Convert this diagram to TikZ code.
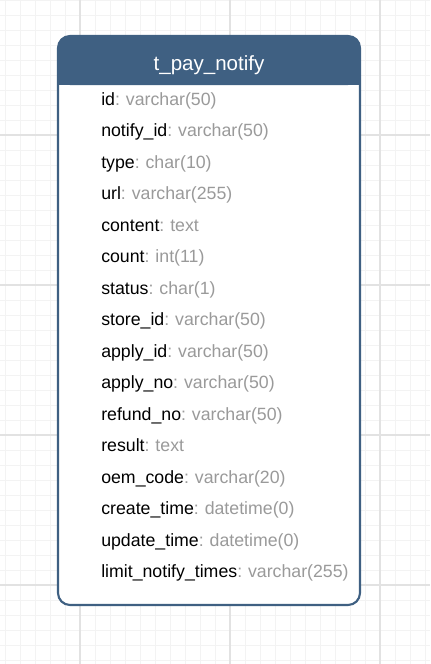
\documentclass[tikz,border=0pt]{standalone}
\usepackage{fontspec}
\usepackage{xcolor}
\usepackage{tikz}
\setmainfont{Liberation Sans}
\definecolor{headblue}{HTML}{3F6082}
\definecolor{typegray}{HTML}{9A9A9A}
\definecolor{gridminor}{HTML}{F3F3F3}
\definecolor{gridmajor}{HTML}{E2E2E2}

\newcommand{\fld}[2]{#1\textcolor{typegray}{:\ #2}}

\begin{document}
\begin{tikzpicture}[x=0.75pt, y=-0.75pt, node distance=23.625pt,
    rowtext/.style={inner sep=0pt, text width=195pt, align=left,
        text height=10pt, text depth=3pt, font=\fontsize{13.3pt}{15pt}\selectfont\frenchspacing}]
    \useasboundingbox (0,0) rectangle (430,664);
    \fill[white] (0,0) rectangle (430,664);

    % background grid
    \foreach \x in {5,20,...,425} \draw[gridminor, line width=0.75pt] (\x,0) -- (\x,664);
    \foreach \y in {0,15,...,660} \draw[gridminor, line width=0.75pt] (0,\y) -- (430,\y);
    \foreach \x in {80,230,380} \draw[gridmajor, line width=1.2pt] (\x,0) -- (\x,664);
    \foreach \y in {135,285,435,585} \draw[gridmajor, line width=1.2pt] (0,\y) -- (430,\y);

    % table
    \fill[white, rounded corners=9pt] (58,36) rectangle (360,605);
    \fill[headblue, rounded corners=9pt] (58,85) -- (58,36) -- (360,36) -- (360,85) -- cycle;
    \fill[headblue] (58,70) rectangle (360,85);
    \draw[headblue, line width=1.6pt, rounded corners=9pt] (58,36) rectangle (360,605);
    \node[anchor=base, inner sep=0pt, text=white, font=\fontsize{15.4pt}{18pt}\selectfont] (title) at (209,70) {t\_pay\_notify};

    % fields
    \node[rowtext, anchor=base west] (id) at (101,105) {\fld{id}{varchar(50)}};
    \node[rowtext, below of=id] (notifyid) {\fld{notify\_id}{varchar(50)}};
    \node[rowtext, below of=notifyid] (type) {\fld{type}{char(10)}};
    \node[rowtext, below of=type] (url) {\fld{url}{varchar(255)}};
    \node[rowtext, below of=url] (content) {\fld{content}{text}};
    \node[rowtext, below of=content] (count) {\fld{count}{int(11)}};
    \node[rowtext, below of=count] (status) {\fld{status}{char(1)}};
    \node[rowtext, below of=status] (storeid) {\fld{store\_id}{varchar(50)}};
    \node[rowtext, below of=storeid] (applyid) {\fld{apply\_id}{varchar(50)}};
    \node[rowtext, below of=applyid] (applyno) {\fld{apply\_no}{varchar(50)}};
    \node[rowtext, below of=applyno] (refundno) {\fld{refund\_no}{varchar(50)}};
    \node[rowtext, below of=refundno] (result) {\fld{result}{text}};
    \node[rowtext, below of=result] (oemcode) {\fld{oem\_code}{varchar(20)}};
    \node[rowtext, below of=oemcode] (createtime) {\fld{create\_time}{datetime(0)}};
    \node[rowtext, below of=createtime] (updatetime) {\fld{update\_time}{datetime(0)}};
    \node[rowtext, below of=updatetime] (limittimes) {\fld{limit\_notify\_times}{varchar(255)}};
\end{tikzpicture}
\end{document}
